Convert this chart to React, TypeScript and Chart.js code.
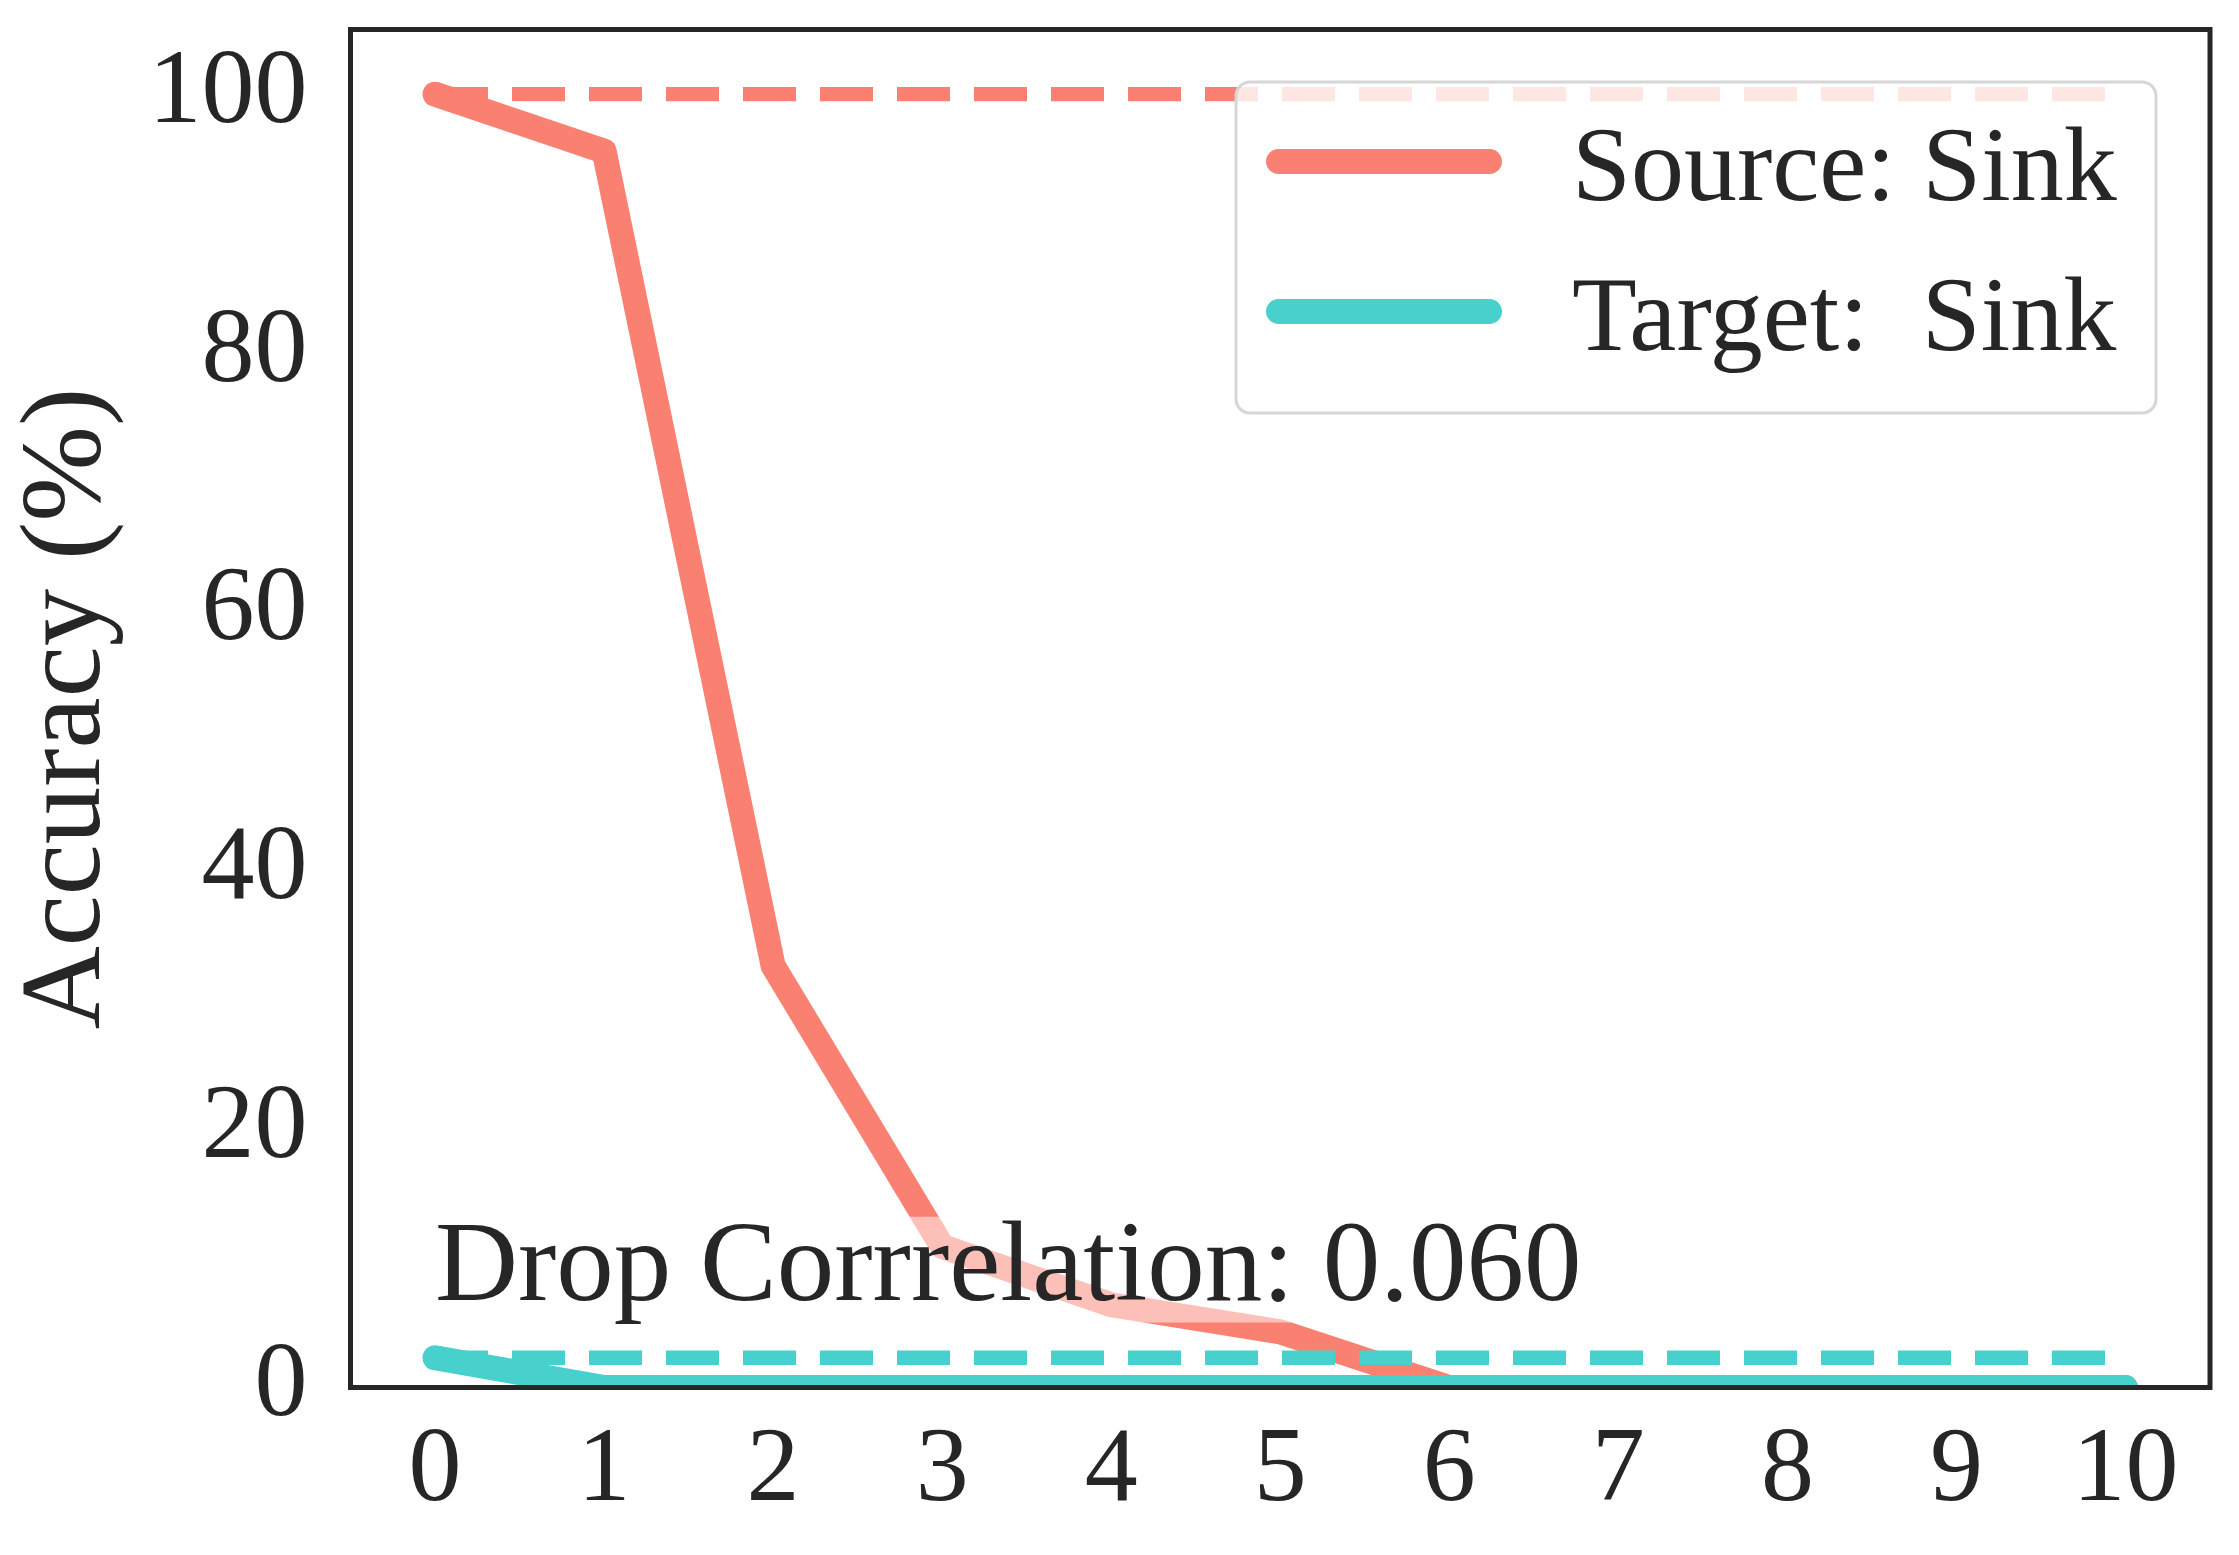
import { useEffect, useRef } from "react"
import { Chart, registerables } from "chart.js"

Chart.register(...registerables)

// Data
const STEPS = [0, 1, 2, 3, 4, 5, 6, 7, 8, 9, 10]
const SOURCE_ACC = [100, 95.6, 32.6, 10.9, 6.4, 4.3, 0, 0, 0, 0, 0]
const TARGET_ACC = [2.3, 0, 0, 0, 0, 0, 0, 0, 0, 0, 0]
const SOURCE_BASELINE = 100
const TARGET_BASELINE = 2.3
const X_TICKS = [0, 1, 2, 3, 4, 5, 6, 7, 8, 9, 10]
const Y_TICKS = [0, 20, 40, 60, 80, 100]
const SOURCE_LABEL = "Source: Sink"
const TARGET_LABEL = "Target:  Sink"
const NOTE = "Drop Corrrelation: 0.060"
const NOTE_AT = [0, 6.8]

const SALMON = "#FA8072"
const TURQUOISE = "#48D1CC"
const INK = "#262626"
const FONT = '"Liberation Serif", "Times New Roman", serif'

const W = 2239
const H = 1555

// annotation, frame and legend drawn on top of the lines
const overlay = {
  id: "overlay",
  afterDatasetsDraw(chart: any) {
    const { ctx, chartArea: a, scales } = chart
    ctx.save()

    // annotation with half transparent box
    ctx.font = `115px ${FONT}`
    const tx = scales.x.getPixelForValue(NOTE_AT[0])
    const ty = scales.y.getPixelForValue(NOTE_AT[1])
    const tw = ctx.measureText(NOTE).width
    ctx.fillStyle = "rgba(255,255,255,0.5)"
    ctx.fillRect(tx, ty - 0.72 * 115, tw, 0.92 * 115)
    ctx.fillStyle = INK
    ctx.textAlign = "left"
    ctx.textBaseline = "alphabetic"
    ctx.fillText(NOTE, tx, ty)

    // frame
    ctx.strokeStyle = INK
    ctx.lineWidth = 5
    ctx.strokeRect(a.left, a.top, a.right - a.left, a.bottom - a.top)

    // legend
    const bx = a.right - 974
    const by = a.top + 52.5
    ctx.beginPath()
    ctx.roundRect(bx, by, 920, 331, 14)
    ctx.fillStyle = "rgba(255,255,255,0.8)"
    ctx.fill()
    ctx.strokeStyle = "#d6d6d6"
    ctx.lineWidth = 3
    ctx.stroke()

    const items = [
      { label: SOURCE_LABEL, color: SALMON },
      { label: TARGET_LABEL, color: TURQUOISE },
    ]
    ctx.font = `106px ${FONT}`
    items.forEach((it, i) => {
      const cy = by + 79.5 + i * 150
      ctx.beginPath()
      ctx.moveTo(bx + 42.5, cy)
      ctx.lineTo(bx + 253.5, cy)
      ctx.strokeStyle = it.color
      ctx.lineWidth = 25
      ctx.lineCap = "round"
      ctx.stroke()
      ctx.fillStyle = INK
      ctx.fillText(it.label, bx + 336, cy + 38)
    })

    ctx.restore()
  },
}

export default function App() {
  const chartRef = useRef<HTMLCanvasElement>(null)
  const chartInstance = useRef<Chart | null>(null)

  useEffect(() => {
    document.body.style.margin = "0"
    if (!chartRef.current) return

    if (chartInstance.current) {
      chartInstance.current.destroy()
    }

    const ctx = chartRef.current.getContext("2d")
    if (ctx) {
      const first = STEPS[0]
      const last = STEPS[STEPS.length - 1]
      chartInstance.current = new Chart(ctx, {
        type: "line",
        data: {
          datasets: [
            {
              label: TARGET_LABEL,
              data: STEPS.map((x, i) => ({ x, y: TARGET_ACC[i] })),
              borderColor: TURQUOISE,
              borderWidth: 25,
              borderCapStyle: "round",
              borderJoinStyle: "round",
              order: 0,
            },
            {
              label: "target baseline",
              data: [
                { x: first, y: TARGET_BASELINE },
                { x: last, y: TARGET_BASELINE },
              ],
              borderColor: TURQUOISE,
              borderWidth: 14.4,
              borderDash: [53, 24],
              borderCapStyle: "butt",
              order: 1,
            },
            {
              label: SOURCE_LABEL,
              data: STEPS.map((x, i) => ({ x, y: SOURCE_ACC[i] })),
              borderColor: SALMON,
              borderWidth: 25,
              borderCapStyle: "round",
              borderJoinStyle: "round",
              order: 2,
            },
            {
              label: "source baseline",
              data: [
                { x: first, y: SOURCE_BASELINE },
                { x: last, y: SOURCE_BASELINE },
              ],
              borderColor: SALMON,
              borderWidth: 14.4,
              borderDash: [53, 24],
              borderCapStyle: "butt",
              order: 3,
            },
          ],
        },
        options: {
          responsive: false,
          animation: false,
          devicePixelRatio: 1,
          elements: { point: { radius: 0 }, line: { tension: 0 } },
          layout: { padding: { left: 0, top: 29.5, right: 29, bottom: 0 } },
          plugins: {
            legend: { display: false },
            tooltip: { enabled: false },
          },
          scales: {
            x: {
              type: "linear",
              min: -0.5,
              max: 10.5,
              grid: { display: false, drawTicks: false },
              border: { display: false },
              afterBuildTicks: (axis: any) => {
                axis.ticks = X_TICKS.map((v) => ({ value: v }))
              },
              afterFit: (axis: any) => {
                axis.height = H - 1387.5
                axis.paddingLeft = 0
                axis.paddingRight = 0
              },
              ticks: {
                color: INK,
                padding: 21,
                maxRotation: 0,
                autoSkip: false,
                font: { family: FONT, size: 106 },
              },
            },
            y: {
              type: "linear",
              min: 0,
              max: 105,
              grid: { display: false, drawTicks: false },
              border: { display: false },
              afterBuildTicks: (axis: any) => {
                axis.ticks = Y_TICKS.map((v) => ({ value: v }))
              },
              afterFit: (axis: any) => {
                axis.width = 350.5
                axis.paddingTop = 0
                axis.paddingBottom = 0
              },
              title: {
                display: true,
                text: "Accuracy (%)",
                color: INK,
                padding: { top: 0, bottom: 0 },
                font: { family: FONT, size: 115 },
              },
              ticks: {
                color: INK,
                padding: 43,
                autoSkip: false,
                font: { family: FONT, size: 106 },
              },
            },
          },
        },
        plugins: [overlay],
      })
    }

    return () => {
      if (chartInstance.current) {
        chartInstance.current.destroy()
        chartInstance.current = null
      }
    }
  }, [])

  return (
    <div style={{ width: W, height: H, background: "#fff" }}>
      <canvas ref={chartRef} width={W} height={H} style={{ display: "block" }} />
    </div>
  )
}
